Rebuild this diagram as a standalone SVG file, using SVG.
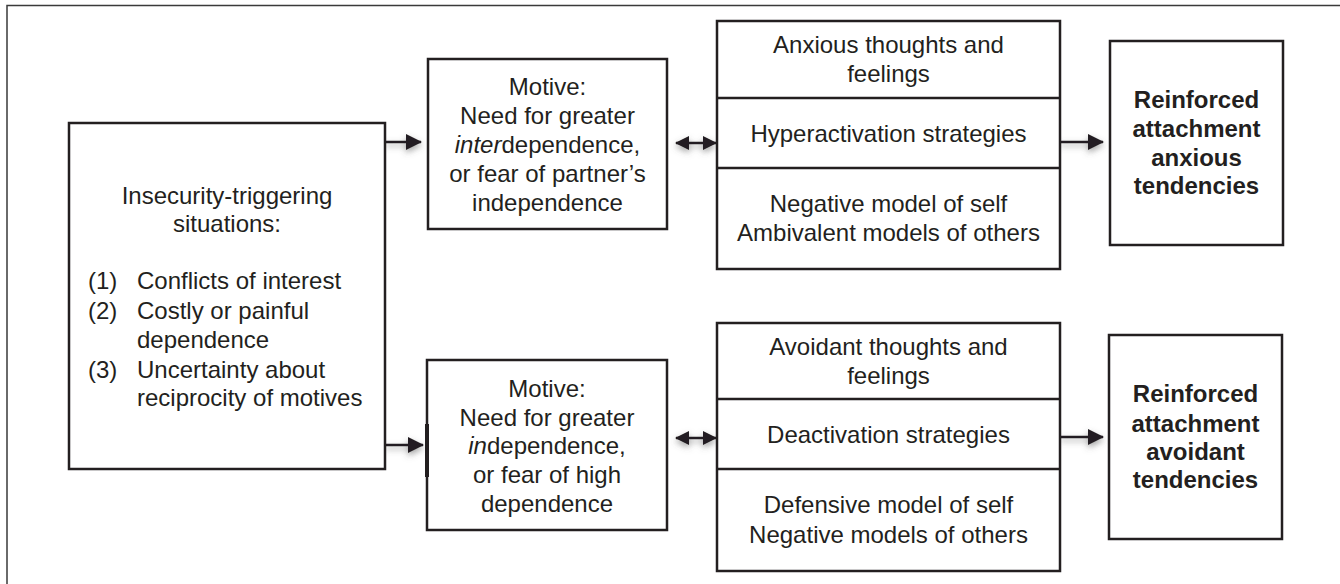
<svg xmlns="http://www.w3.org/2000/svg" width="1340" height="584" viewBox="0 0 1340 584">
  <style>
    .box { fill: #ffffff; stroke: #231f20; stroke-width: 2.5; }
    .frame { fill: none; stroke: #3a3a3a; stroke-width: 1.5; }
    .div { stroke: #231f20; stroke-width: 2.5; }
    text { font-family: "Liberation Sans", Arial, sans-serif; font-size: 24px; fill: #231f20; }
    .c { text-anchor: middle; }
    .b { font-weight: bold; }
    .conn { stroke: #231f20; stroke-width: 2.5; fill: none; }
  </style>
  <defs>
    <marker id="ah" viewBox="0 0 16 16" markerUnits="userSpaceOnUse" markerWidth="16" markerHeight="16" refX="15" refY="8" orient="auto-start-reverse">
      <path d="M0,0 L16,8 L0,16 z" fill="#231f20"/>
    </marker>
    <marker id="ah2" viewBox="0 0 14 14" markerUnits="userSpaceOnUse" markerWidth="14" markerHeight="14" refX="13" refY="7" orient="auto-start-reverse">
      <path d="M0,0 L14,7 L0,14 z" fill="#231f20"/>
    </marker>
    <filter id="sh" filterUnits="userSpaceOnUse" x="0" y="0" width="1340" height="584">
      <feDropShadow dx="0" dy="3" stdDeviation="3" flood-color="#555" flood-opacity="0.55"/>
    </filter>
  </defs>

  <rect class="frame" x="7" y="5.5" width="1345" height="600"/>

  <g id="connectors" filter="url(#sh)">
    <line class="conn" x1="385" y1="142" x2="421" y2="142" marker-end="url(#ah)"/>
    <line class="conn" x1="385" y1="445" x2="423" y2="445" marker-end="url(#ah)"/>
    <line class="conn" x1="676" y1="143" x2="716" y2="143" marker-start="url(#ah2)" marker-end="url(#ah2)"/>
    <line class="conn" x1="676" y1="438" x2="716" y2="438" marker-start="url(#ah2)" marker-end="url(#ah2)"/>
    <line class="conn" x1="1060" y1="142" x2="1103" y2="142" marker-end="url(#ah)"/>
    <line class="conn" x1="1060" y1="437" x2="1103" y2="437" marker-end="url(#ah)"/>
  </g>

  <g id="situations">
    <rect class="box" x="69" y="123" width="316" height="346"/>
    <text class="c" x="227" y="204">Insecurity-triggering</text>
    <text class="c" x="227" y="232">situations:</text>
    <text x="88" y="289">(1)</text><text x="137" y="289">Conflicts of interest</text>
    <text x="88" y="319">(2)</text><text x="137" y="319">Costly or painful</text>
    <text x="137" y="348">dependence</text>
    <text x="88" y="378">(3)</text><text x="137" y="378">Uncertainty about</text>
    <text x="137" y="406">reciprocity of motives</text>
  </g>

  <g id="motive-inter">
    <rect class="box" x="428" y="59" width="239" height="170"/>
    <text class="c" x="547.5" y="95">Motive:</text>
    <text class="c" x="547.5" y="124">Need for greater</text>
    <text class="c" x="547.5" y="153"><tspan font-style="italic">inter</tspan>dependence,</text>
    <text class="c" x="547.5" y="182">or fear of partner’s</text>
    <text class="c" x="547.5" y="211">independence</text>
  </g>

  <g id="motive-in">
    <rect class="box" x="427" y="360" width="240" height="170"/>
    <line x1="427" y1="424" x2="427" y2="477" stroke="#231f20" stroke-width="4"/>
    <text class="c" x="547" y="397">Motive:</text>
    <text class="c" x="547" y="426">Need for greater</text>
    <text class="c" x="547" y="454"><tspan font-style="italic">in</tspan>dependence,</text>
    <text class="c" x="547" y="483">or fear of high</text>
    <text class="c" x="547" y="512">dependence</text>
  </g>

  <g id="anxious-column">
    <rect class="box" x="717" y="21" width="343" height="248"/>
    <line class="div" x1="717" y1="98" x2="1060" y2="98"/>
    <line class="div" x1="717" y1="168" x2="1060" y2="168"/>
    <text class="c" x="888.5" y="53">Anxious thoughts and</text>
    <text class="c" x="888.5" y="82">feelings</text>
    <text class="c" x="888.5" y="142">Hyperactivation strategies</text>
    <text class="c" x="888.5" y="212">Negative model of self</text>
    <text class="c" x="888.5" y="241">Ambivalent models of others</text>
  </g>

  <g id="avoidant-column">
    <rect class="box" x="717" y="323" width="343" height="248"/>
    <line class="div" x1="717" y1="399" x2="1060" y2="399"/>
    <line class="div" x1="717" y1="469" x2="1060" y2="469"/>
    <text class="c" x="888.5" y="355">Avoidant thoughts and</text>
    <text class="c" x="888.5" y="384">feelings</text>
    <text class="c" x="888.5" y="443">Deactivation strategies</text>
    <text class="c" x="888.5" y="513">Defensive model of self</text>
    <text class="c" x="888.5" y="543">Negative models of others</text>
  </g>

  <g id="result-anxious">
    <rect class="box" x="1110" y="41" width="173" height="204"/>
    <text class="c b" x="1196.5" y="108">Reinforced</text>
    <text class="c b" x="1196.5" y="137">attachment</text>
    <text class="c b" x="1196.5" y="166">anxious</text>
    <text class="c b" x="1196.5" y="194">tendencies</text>
  </g>

  <g id="result-avoidant">
    <rect class="box" x="1109" y="335" width="173" height="204"/>
    <text class="c b" x="1195.5" y="402">Reinforced</text>
    <text class="c b" x="1195.5" y="432">attachment</text>
    <text class="c b" x="1195.5" y="460">avoidant</text>
    <text class="c b" x="1195.5" y="488">tendencies</text>
  </g>
</svg>
